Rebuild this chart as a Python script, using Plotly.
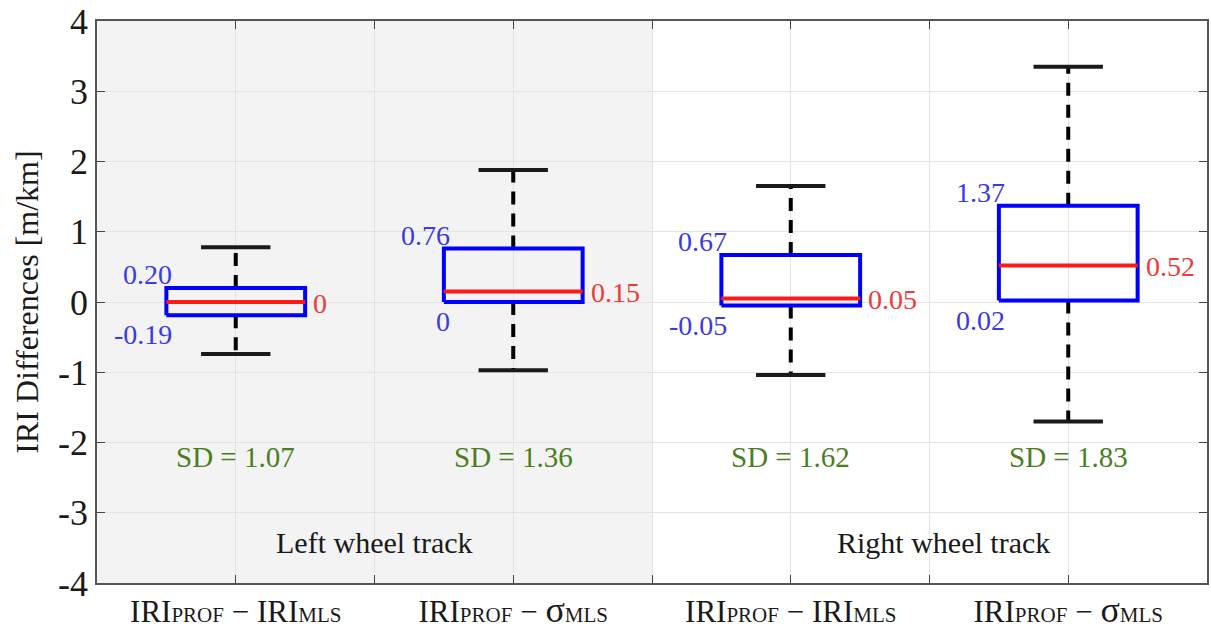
import plotly.graph_objects as go

# ---- data ----
positions = [1, 2, 3, 4]
q1 = [-0.19, 0.00, -0.05, 0.02]
median = [0.00, 0.15, 0.05, 0.52]
q3 = [0.20, 0.76, 0.67, 1.37]
lower_whisker = [-0.74, -0.97, -1.04, -1.70]
upper_whisker = [0.78, 1.88, 1.65, 3.35]
q1_labels = ["-0.19", "0", "-0.05", "0.02"]
q3_labels = ["0.20", "0.76", "0.67", "1.37"]
median_labels = ["0", "0.15", "0.05", "0.52"]
sd_labels = ["SD = 1.07", "SD = 1.36", "SD = 1.62", "SD = 1.83"]
group_labels = ["Left wheel track", "Right wheel track"]
group_x = [1.5, 3.55]
sm = "<span style='font-size:21px'>"
cat_labels = [
    "IRI" + sm + "PROF</span> − IRI" + sm + "MLS</span>",
    "IRI" + sm + "PROF</span> − <span style='font-size:36px'>σ</span>" + sm + "MLS</span>",
    "IRI" + sm + "PROF</span> − IRI" + sm + "MLS</span>",
    "IRI" + sm + "PROF</span> − <span style='font-size:36px'>σ</span>" + sm + "MLS</span>",
]
y_ticks = [-4, -3, -2, -1, 0, 1, 2, 3, 4]
y_ticktext = ["-4", "-3", "-2", "-1", "0", "1", "2", "3", "4"]

BOX_HALF = 0.25
CAP_HALF = 0.125
FONT = "Liberation Serif"
BLUE = "#0000ff"
RED = "#ff1a1a"
LBL_BLUE = "#3a3ae8"
LBL_RED = "#ee3a3a"
GREEN = "#4b7d23"

fig = go.Figure()

for i, c in enumerate(positions):
    # whiskers (dashed)
    fig.add_trace(go.Scatter(x=[c, c], y=[q3[i], upper_whisker[i]], mode="lines",
                             line=dict(color="black", width=4, dash="13px,9px"),
                             showlegend=False, hoverinfo="skip"))
    fig.add_trace(go.Scatter(x=[c, c], y=[q1[i], lower_whisker[i]], mode="lines",
                             line=dict(color="black", width=4, dash="13px,9px"),
                             showlegend=False, hoverinfo="skip"))
    # caps
    for w in (upper_whisker[i], lower_whisker[i]):
        fig.add_trace(go.Scatter(x=[c - CAP_HALF, c + CAP_HALF], y=[w, w], mode="lines",
                                 line=dict(color="#1a1a1a", width=4),
                                 showlegend=False, hoverinfo="skip"))
    # box
    fig.add_trace(go.Scatter(
        x=[c - BOX_HALF, c + BOX_HALF, c + BOX_HALF, c - BOX_HALF, c - BOX_HALF],
        y=[q1[i], q1[i], q3[i], q3[i], q1[i]], mode="lines",
        line=dict(color=BLUE, width=4), showlegend=False, hoverinfo="skip"))
    # median
    fig.add_trace(go.Scatter(x=[c - BOX_HALF, c + BOX_HALF], y=[median[i], median[i]],
                             mode="lines", line=dict(color=RED, width=4),
                             showlegend=False, hoverinfo="skip"))

annotations = []
for i, c in enumerate(positions):
    annotations.append(dict(x=c - BOX_HALF, y=q3[i], text=q3_labels[i], showarrow=False,
                            xanchor="right", yanchor="bottom", xshift=8, yshift=-4,
                            font=dict(family=FONT, size=28, color=LBL_BLUE)))
    annotations.append(dict(x=c - BOX_HALF, y=q1[i], text=q1_labels[i], showarrow=False,
                            xanchor="right", yanchor="top", xshift=8, yshift=-2,
                            font=dict(family=FONT, size=28, color=LBL_BLUE)))
    annotations.append(dict(x=c + BOX_HALF, y=median[i], text=median_labels[i], showarrow=False,
                            xanchor="left", yanchor="middle", xshift=6, yshift=-1,
                            font=dict(family=FONT, size=28, color=LBL_RED)))
    annotations.append(dict(x=c, y=-2.2, text=sd_labels[i], showarrow=False,
                            xanchor="center", yanchor="middle",
                            font=dict(family=FONT, size=29, color=GREEN)))
for gx, gl in zip(group_x, group_labels):
    annotations.append(dict(x=gx, y=-3.43, text=gl, showarrow=False,
                            xanchor="center", yanchor="middle",
                            font=dict(family=FONT, size=30, color="#1a1a1a")))

x_tickvals = [1, 1.5, 2, 2.5, 3, 3.5, 4]
x_ticktext = [cat_labels[0], "", cat_labels[1], "", cat_labels[2], "", cat_labels[3]]

fig.update_layout(
    width=1211, height=632,
    margin=dict(l=97, r=2, t=21, b=45),
    paper_bgcolor="white", plot_bgcolor="white",
    annotations=annotations,
    shapes=[dict(type="rect", xref="x", yref="y", x0=0.5, x1=2.5, y0=-4, y1=4,
                 fillcolor="#f3f3f3", line=dict(width=0), layer="below")],
    xaxis=dict(range=[0.5, 4.5], tickvals=x_tickvals, ticktext=x_ticktext,
               ticks="inside", ticklen=8, tickcolor="#444", tickwidth=1,
               showgrid=True, gridcolor="#e3e3e3", gridwidth=1,
               showline=True, linecolor="#555", linewidth=1.5, mirror="ticks",
               zeroline=False, tickfont=dict(family=FONT, size=31, color="#1a1a1a")),
    yaxis=dict(range=[-4, 4], tickvals=y_ticks, ticktext=y_ticktext,
               ticks="inside", ticklen=8, tickcolor="#444", tickwidth=1,
               showgrid=True, gridcolor="#e3e3e3", gridwidth=1,
               showline=True, linecolor="#555", linewidth=1.5, mirror="ticks",
               zeroline=False, tickfont=dict(family=FONT, size=36, color="#1a1a1a"),
               title=dict(text="IRI Differences [m/km]", standoff=10,
                          font=dict(family=FONT, size=32, color="#1a1a1a"))),
)

fig.write_html("out.html")
